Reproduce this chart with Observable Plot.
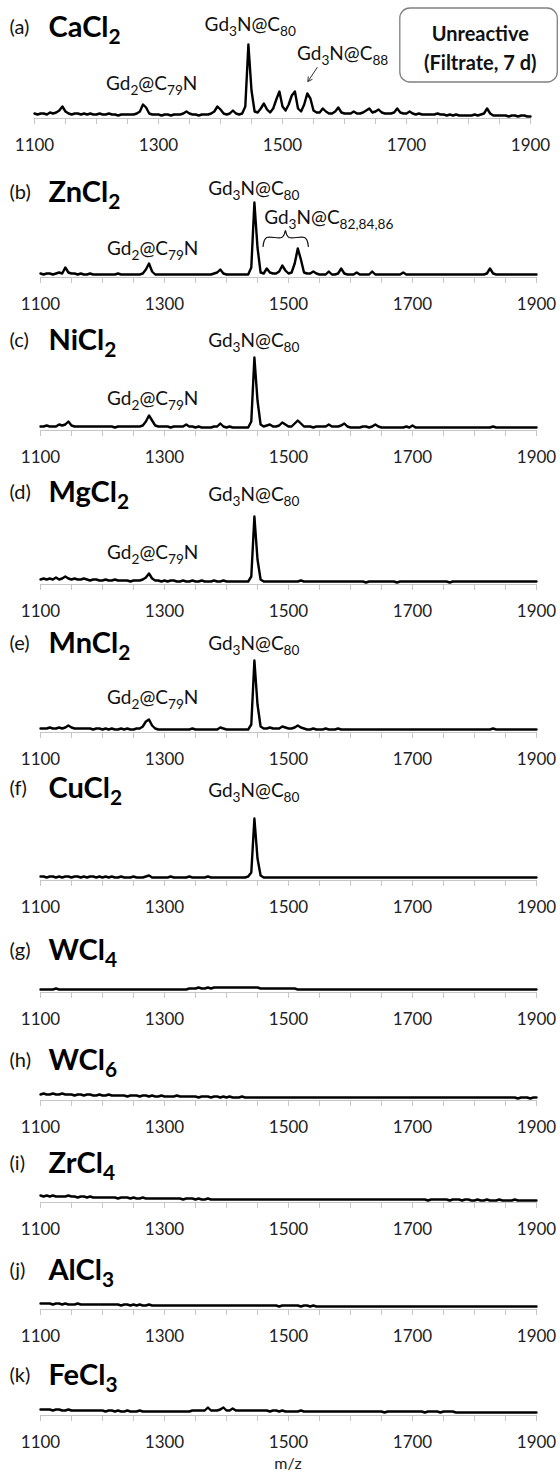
<!DOCTYPE html>
<html><head><meta charset="utf-8">
<script src="https://cdn.jsdelivr.net/npm/d3@7"></script>
<script src="https://cdn.jsdelivr.net/npm/@observablehq/plot@0.6"></script>
<style>
body{margin:0;background:#fff;}
#chart{position:relative;width:560px;height:1475px;font-family:Lato,"Open Sans",sans-serif;overflow:hidden;}
#chart svg{position:absolute;left:0;overflow:visible;}
#mz{position:absolute;left:0;width:576px;text-align:center;top:1453px;height:17px;line-height:17px;font:16px Lato,sans-serif;color:#222;}
</style></head><body><div id="chart"></div>
<script>
// ---------- data ----------
const panelLetters = ["(a)","(b)","(c)","(d)","(e)","(f)","(g)","(h)","(i)","(j)","(k)"];
const salts = ["CaCl_{2}","ZnCl_{2}","NiCl_{2}","MgCl_{2}","MnCl_{2}","CuCl_{2}","WCl_{4}","WCl_{6}","ZrCl_{4}","AlCl_{3}","FeCl_{3}"];
const tickLabels = [1100,1300,1500,1700,1900];
const minorTicks = [1100,1150,1200,1250,1300,1350,1400,1450,1500,1550,1600,1650,1700,1750,1800,1850,1900];
const xLabel = "m/z";
// m/z sampling grid of the spectra (every 5 m/z from 1100 to 1900)
const mzGrid = d3.range(1100, 1901, 5);

// intensities, one value per grid point
const intA = [5,4,5,5,4,6,5,6,8,12,7,5,4,5,5,4,5,4,5,4,
 4,5,4,4,5,4,4,3,4,4,4,4,4,5,7,14,11,5,4,4,
 4,3,4,4,3,4,4,4,5,7,5,4,4,3,4,4,4,5,7,12,
 9,5,4,5,8,5,4,5,12,74,28,7,6,10,15,9,6,10,19,27,
 12,8,14,23,27,10,7,14,25,20,8,6,6,10,7,5,5,7,11,6,
 5,5,5,7,5,5,6,8,10,6,7,9,6,5,5,5,6,10,6,5,
 5,7,5,4,5,4,4,4,4,4,5,4,4,3,4,3,4,3,3,3,
 3,3,4,3,4,5,10,5,3,3,3,3,3,2,3,3,2,3,3,2,
 2];
const intB = [4,3,4,4,3,4,5,4,10,5,4,4,3,4,3,3,4,3,3,3,
 3,3,3,3,3,4,3,3,3,3,3,3,3,4,8,14,6,3,3,3,
 3,3,3,3,3,3,3,3,3,3,3,3,3,3,3,3,4,5,8,4,
 3,3,3,3,3,3,3,3,10,75,30,5,4,9,5,4,4,6,12,7,
 4,5,14,29,18,5,4,4,6,4,3,3,3,6,3,3,4,9,4,3,
 3,3,5,3,3,3,3,6,3,3,3,3,3,3,3,3,3,5,3,3,
 3,3,3,3,3,3,3,3,3,3,3,3,3,3,3,3,3,3,3,3,
 3,3,3,3,4,9,4,3,3,3,3,3,3,3,3,3,3,3,3,3,
 3];
const intC = [4,4,5,4,4,4,6,5,6,9,5,4,4,4,4,4,4,4,4,4,
 4,4,4,4,3,4,4,4,4,4,4,4,4,5,9,15,10,5,4,4,
 4,4,3,4,4,4,4,6,4,4,3,4,3,3,3,3,4,4,7,4,
 3,4,3,3,3,3,3,3,9,73,30,6,4,5,6,4,4,5,8,6,
 4,4,7,10,7,4,4,4,3,4,4,4,4,6,4,4,4,5,7,4,
 3,3,3,3,4,4,3,4,6,4,3,3,3,3,3,3,3,3,4,3,
 5,3,3,3,3,3,3,3,3,3,3,3,3,3,3,3,3,3,3,3,
 3,3,3,3,3,3,4,3,3,3,3,3,3,3,3,3,3,3,3,3,
 3];
const intD = [5,6,5,6,5,7,5,6,8,6,5,6,5,5,6,5,4,5,5,4,
 4,5,4,4,5,4,4,4,4,3,4,4,4,5,7,11,6,4,4,3,
 4,3,4,4,3,3,4,3,3,4,3,3,4,3,3,3,4,3,3,4,
 3,3,3,3,3,3,3,3,8,68,25,5,3,3,3,3,3,3,3,3,
 3,3,3,3,4,3,3,3,3,3,3,3,3,3,3,3,3,3,3,3,
 3,3,3,3,3,2,3,3,3,3,3,3,3,3,3,2,3,3,3,3,
 3,3,3,3,3,3,3,3,3,3,3,3,2,3,3,3,3,3,3,3,
 3,3,3,3,3,3,3,3,3,3,3,3,3,3,3,3,3,3,3,3,
 3];
const intE = [4,4,4,5,4,4,5,4,5,7,5,4,4,4,4,4,4,3,4,4,
 3,4,3,4,3,3,4,3,4,3,3,4,4,6,11,13,7,4,3,3,
 3,3,3,3,3,3,3,3,3,4,3,3,3,3,3,3,3,3,5,4,
 3,3,3,3,3,3,3,3,8,72,28,6,4,4,5,4,4,4,6,5,
 4,4,5,7,5,4,3,3,4,3,3,3,4,3,3,3,4,3,3,3,
 3,3,3,3,3,3,3,3,3,3,3,3,3,3,3,3,3,3,3,3,
 3,3,3,3,3,3,3,3,3,3,3,3,3,3,3,3,3,3,3,3,
 3,3,3,3,3,3,4,3,3,3,3,3,3,3,3,3,3,3,3,3,
 3];
const intF = [4,4,3,4,4,3,4,3,4,4,3,4,4,3,4,3,4,4,3,4,
 3,4,3,4,3,3,4,3,3,3,4,3,3,3,4,5,3,3,3,3,
 3,3,4,3,3,3,3,3,4,3,3,3,3,3,4,3,3,3,3,3,
 3,3,3,3,3,3,3,4,8,62,22,5,3,3,3,3,3,3,3,3,
 3,3,3,3,3,3,3,3,3,3,3,3,3,3,3,3,3,3,3,3,
 3,3,3,3,3,3,3,3,3,3,3,3,3,3,3,3,3,3,3,3,
 3,3,3,3,3,3,3,3,3,3,3,3,3,3,3,3,3,3,3,3,
 3,3,3,3,3,3,3,3,3,3,3,3,3,3,3,3,3,3,3,3,
 3];
const intG = [3,3,3,3,3,4,3,3,3,3,3,3,3,3,3,3,3,3,3,3,
 3,3,3,3,3,3,3,3,3,3,3,3,3,3,3,3,3,3,3,3,
 3,3,3,3,3,3,3,3,4,4,4,5,4,4,5,4,5,5,5,5,
 5,5,5,5,5,5,5,5,5,5,5,4,4,4,4,4,4,4,4,4,
 4,4,4,3,3,3,3,3,3,3,3,3,3,3,3,3,3,3,3,3,
 3,3,3,3,3,3,3,3,3,3,3,3,3,3,3,3,3,3,3,3,
 3,3,3,3,3,3,3,3,3,3,3,3,3,3,3,3,3,3,3,3,
 3,3,3,3,3,3,3,3,3,3,3,3,3,3,3,3,3,3,3,3,
 3];
const intH = [6,7,6,6,7,6,6,7,6,6,6,5,6,6,5,6,6,5,5,6,
 5,5,6,5,5,5,5,5,4,5,5,5,4,5,5,4,5,4,4,5,
 4,4,4,4,5,4,4,4,4,4,4,3,4,4,4,3,4,4,3,4,
 3,4,3,3,3,4,3,3,3,3,3,3,3,3,3,3,3,3,3,3,
 3,3,3,3,3,3,3,3,3,3,3,3,3,3,3,3,3,3,3,3,
 3,3,3,3,3,3,3,3,3,3,3,3,3,3,3,3,3,3,3,3,
 3,3,3,3,3,3,3,3,3,3,3,3,3,3,3,3,3,3,3,3,
 3,3,3,3,3,3,3,3,3,3,3,3,3,3,2,3,3,3,2,3,
 3];
const intI = [7,6,7,6,7,6,6,6,6,7,6,6,5,6,6,5,6,5,5,5,
 5,5,5,5,5,4,5,5,5,4,5,4,4,5,4,4,4,4,4,4,
 4,4,4,4,4,4,3,4,4,4,3,4,3,3,4,3,3,3,3,3,
 3,3,3,3,3,3,3,3,3,3,3,3,3,3,3,3,3,3,3,3,
 3,3,3,3,3,3,3,3,3,3,3,3,3,3,3,3,3,3,3,3,
 3,3,3,3,3,3,3,3,3,3,3,3,3,3,3,3,3,3,3,3,
 3,3,3,3,3,2,3,3,3,3,3,3,2,3,3,3,2,3,3,2,
 2,3,2,2,3,2,2,2,3,2,2,2,2,3,2,2,2,2,2,2,
 2];
const intJ = [6,6,6,6,5,6,6,5,6,5,5,5,6,5,5,5,5,5,5,5,
 5,5,5,5,5,5,4,5,5,4,5,4,5,4,4,5,4,4,4,4,
 4,4,4,4,4,4,4,4,4,4,4,4,4,4,4,4,4,4,4,4,
 4,4,4,4,4,4,4,4,4,4,4,4,4,4,4,4,4,3,4,4,
 4,4,4,4,3,4,4,3,4,3,3,3,3,3,3,3,3,3,3,3,
 3,3,3,3,3,3,3,3,3,3,3,3,3,3,3,3,3,3,3,3,
 3,3,3,3,3,3,3,3,3,3,3,3,3,3,3,3,3,3,3,3,
 3,3,3,3,3,3,3,3,3,3,3,3,3,3,3,3,3,3,3,3,
 3];
const intK = [6,6,6,6,5,6,6,5,5,6,5,5,5,5,5,5,5,5,5,5,
 5,4,5,5,4,5,4,4,5,4,4,4,5,4,4,4,4,4,4,4,
 4,4,4,4,4,4,4,4,4,5,5,5,5,5,8,5,5,5,6,8,
 5,5,7,5,5,5,5,5,5,5,5,5,5,5,4,5,5,4,5,4,
 4,4,4,4,5,4,4,4,4,4,4,4,4,4,4,4,4,4,4,4,
 4,4,4,4,4,4,4,4,4,4,4,3,4,4,4,4,4,4,4,4,
 4,4,4,4,3,4,4,4,4,3,4,4,4,4,3,3,3,3,3,3,
 3,3,3,3,3,3,3,3,3,3,3,3,3,3,3,3,3,3,3,3,
 3];
const intensities = [intA,intB,intC,intD,intE,intF,intG,intH,intI,intJ,intK];

// peak annotations: label, m/z, height
const annA = [{t:"Gd_{3}N@C_{80}", mz:1448, h:94},{t:"Gd_{2}@C_{79}N", mz:1289, h:35},{t:"Gd_{3}N@C_{88}", mz:1597, h:65}];
const annB = [{t:"Gd_{3}N@C_{80}", mz:1444, h:89},{t:"Gd_{2}@C_{79}N", mz:1281, h:29},{t:"Gd_{3}N@C_{82,84,86}", mz:1565, h:60}];
const annC = [{t:"Gd_{3}N@C_{80}", mz:1444, h:90},{t:"Gd_{2}@C_{79}N", mz:1281, h:32}];
const annD = [{t:"Gd_{3}N@C_{80}", mz:1444, h:90},{t:"Gd_{2}@C_{79}N", mz:1281, h:32}];
const annE = [{t:"Gd_{3}N@C_{80}", mz:1444, h:89},{t:"Gd_{2}@C_{79}N", mz:1281, h:35}];
const annF = [{t:"Gd_{3}N@C_{80}", mz:1444, h:90}];
const annotations = [annA,annB,annC,annD,annE,annF,[],[],[],[],[]];
const arrowA = [{x1:1556, y1:51, x2:1541, y2:37}];
const braceB = [[1459,31],[1461,37],[1465,40],[1489,40],[1493,43],[1495,47],[1497,43],[1501,40],[1526,40],[1530,37],[1532,31]];
const boxText = "Unreactive\n(Filtrate, 7 d)";

// ---------- layout ----------
const axisY = [118,277,430,584,732,880,992,1100,1202,1309,1415];
const titleY = [27,192,340,492,643,788,950,1060,1163,1270,1375];
const leftX = [34,40,40,40,40,40,40,40,40,40,40];
const plotW = 496, bottom = 36;
const font = "Lato, 'Open Sans', sans-serif";

const chart = document.getElementById("chart");
const NS = "http://www.w3.org/2000/svg";
function richify(svg){
  svg.querySelectorAll("text, tspan").forEach(el => {
    if (el.children.length) return;
    const s = el.textContent;
    if (!s.includes("_{")) return;
    el.textContent = "";
    const parts = s.split(/_\{([^}]*)\}/);
    let shifted = false;
    parts.forEach((p, i) => {
      if (!p) return;
      const t = document.createElementNS(NS, "tspan");
      t.textContent = p;
      if (i % 2) { t.setAttribute("style","font-size:72%"); t.setAttribute("dy","0.36em"); shifted = true; }
      else if (shifted) { t.setAttribute("dy","-0.26em"); shifted = false; }
      el.appendChild(t);
    });
  });
}

intensities.forEach((vals, i) => {
  const spec = mzGrid.map((mz, j) => ({mz, v: vals[j]}));
  const top = i === 0 ? 0 : axisY[i-1] + bottom;
  const plotH = axisY[i] - top;
  const marks = [
    Plot.ruleY([0], {stroke:"#c6c6c6", strokeWidth:1}),
    Plot.axisX(minorTicks, {tickSize:6, stroke:"#c6c6c6", tickFormat:() => "", label:null}),
    Plot.axisX(tickLabels, {tickSize:0, tickPadding:20, fontSize:17, fill:"#222", tickFormat:d => String(d), label:null}),
    Plot.line(spec, {x:"mz", y:"v", stroke:"#000", strokeWidth:2.4, strokeLinejoin:"round"}),
    Plot.text([panelLetters[i]], {frameAnchor:"top-left", lineAnchor:"middle", dx:9 - leftX[i], dy:titleY[i] - top, textAnchor:"start", fontSize:20, fill:"#111"}),
    Plot.text([salts[i]], {frameAnchor:"top-left", lineAnchor:"middle", dx:48 - leftX[i], dy:titleY[i] - top, textAnchor:"start", fontSize:29, fontWeight:"bold", fill:"#000"}),
    Plot.text(annotations[i], {x:"mz", y:"h", text:"t", fontSize:19, fill:"#111"})
  ];
  if (i === 0) {
    marks.push(Plot.arrow(arrowA, {x1:"x1", y1:"y1", x2:"x2", y2:"y2", stroke:"#333", strokeWidth:1, headLength:7}));
    marks.push(Plot.rect([0], {x1:1690, x2:1944, y1:36, y2:110, rx:10, fill:"white", stroke:"#808080", strokeWidth:1.3}));
    marks.push(Plot.text([boxText], {x:1819, y:72.5, fontSize:20, fontWeight:"bold", lineHeight:1.45, fill:"#111"}));
  }
  if (i === 1) {
    marks.push(Plot.line(braceB, {x:d => d[0], y:d => d[1], stroke:"#111", strokeWidth:1.2, curve:"catmull-rom"}));
  }
  const svg = Plot.plot({
    width:560, height:plotH + bottom,
    marginTop:0, marginBottom:bottom, marginLeft:leftX[i], marginRight:560 - leftX[i] - plotW,
    x:{domain:[1100,1900], label:null}, y:{domain:[0,plotH], axis:null, label:null},
    style:{fontFamily:font, background:"transparent", overflow:"visible"},
    marks
  });
  richify(svg);
  svg.style.top = top + "px";
  chart.appendChild(svg);
});
const lab = document.createElement("div");
lab.id = "mz"; lab.textContent = xLabel;
chart.appendChild(lab);
</script></body></html>
